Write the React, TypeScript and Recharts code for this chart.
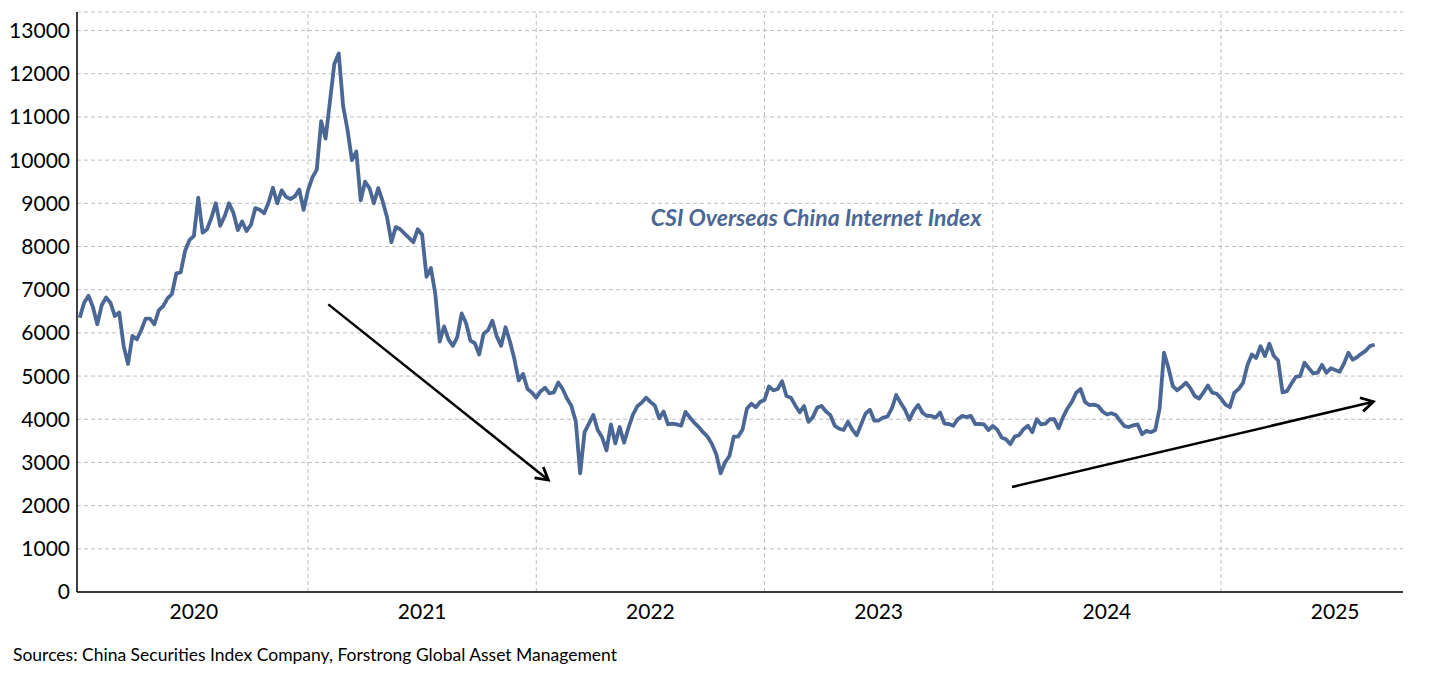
import React from "react";
import {
  LineChart,
  Line,
  XAxis,
  YAxis,
  CartesianGrid,
  ReferenceLine,
  ReferenceDot,
} from "recharts";

// Weekly closes, one array per calendar year
const v2020 = [6350, 6700, 6860, 6600, 6200, 6640, 6820, 6700, 6390, 6470, 5700, 5280, 5930, 5850, 6060, 6330, 6330, 6200, 6520, 6620, 6800, 6900, 7380, 7400, 7900, 8150, 8245, 9130, 8320, 8400, 8670, 9000, 8480, 8700, 9000, 8780, 8380, 8580, 8360, 8500, 8890, 8850, 8770, 9015, 9360, 9000, 9300, 9150, 9100, 9160, 9320, 8850];
const v2021 = [9300, 9600, 9780, 10900, 10500, 11360, 12230, 12470, 11250, 10704, 10000, 10200, 9070, 9500, 9353, 9000, 9353, 9050, 8680, 8100, 8450, 8400, 8300, 8200, 8100, 8400, 8273, 7300, 7501, 6900, 5800, 6150, 5850, 5700, 5900, 6450, 6230, 5820, 5760, 5500, 5980, 6060, 6280, 5920, 5700, 6130, 5800, 5400, 4900, 5050, 4700, 4620];
const v2022 = [4500, 4650, 4730, 4600, 4620, 4850, 4700, 4480, 4310, 3950, 2750, 3700, 3900, 4100, 3750, 3580, 3280, 3880, 3440, 3820, 3457, 3800, 4100, 4300, 4383, 4500, 4400, 4320, 4020, 4180, 3880, 3900, 3880, 3850, 4170, 4040, 3920, 3820, 3700, 3600, 3430, 3190, 2750, 3000, 3150, 3600, 3600, 3765, 4250, 4360, 4280, 4400];
const v2023 = [4450, 4760, 4670, 4700, 4880, 4540, 4500, 4320, 4160, 4308, 3940, 4050, 4270, 4308, 4180, 4095, 3850, 3780, 3750, 3940, 3760, 3630, 3880, 4130, 4220, 3970, 3970, 4040, 4060, 4250, 4560, 4380, 4220, 3990, 4200, 4330, 4150, 4077, 4077, 4038, 4154, 3900, 3890, 3850, 4000, 4077, 4050, 4077, 3890, 3890, 3880, 3750];
const v2024 = [3846, 3760, 3580, 3538, 3423, 3600, 3630, 3769, 3850, 3700, 4000, 3880, 3900, 4000, 4000, 3790, 4050, 4250, 4400, 4615, 4700, 4400, 4330, 4340, 4308, 4180, 4110, 4140, 4100, 3962, 3840, 3820, 3860, 3880, 3654, 3731, 3700, 3750, 4250, 5540, 5192, 4769, 4670, 4750, 4846, 4720, 4538, 4480, 4620, 4780, 4615, 4590];
const v2025 = [4480, 4340, 4280, 4615, 4700, 4840, 5250, 5500, 5420, 5692, 5462, 5750, 5470, 5360, 4620, 4650, 4820, 4980, 5000, 5308, 5180, 5060, 5077, 5260, 5077, 5180, 5140, 5100, 5290, 5538, 5380, 5440, 5520, 5590, 5700, 5725];

const years = [2020, 2021, 2022, 2023, 2024, 2025];
const yearValues = [v2020, v2021, v2022, v2023, v2024, v2025];
const WEEKS_PER_YEAR = 52;

const yTicks = [0, 1000, 2000, 3000, 4000, 5000, 6000, 7000, 8000, 9000, 10000, 11000, 12000, 13000];
const xLabelTicks = [2020.5, 2021.5, 2022.5, 2023.5, 2024.5, 2025.5];
const yearBoundaries = [2021, 2022, 2023, 2024, 2025];

const seriesName = "CSI Overseas China Internet Index";
const sourceText = "Sources: China Securities Index Company, Forstrong Global Asset Management";

// Annotation anchors (data coordinates)
const labelAnchor = { t: 2023.226, v: 8660 };
const arrowDown = [{ x: 2021.089, y: 6660 }, { x: 2022.053, y: 2593 }];
const arrowUp = [{ x: 2024.084, y: 2431 }, { x: 2025.667, y: 4405 }];

const data = years.flatMap((yr, k) =>
  yearValues[k].map((v, i) => ({ t: yr + i / WEEKS_PER_YEAR, v }))
);

const LINE_COLOR = "#4A6796";
const FONT = "Lato, 'Open Sans', sans-serif";

const ArrowShape = (props: any) => {
  const { x1, y1, x2, y2 } = props;
  const a = Math.atan2(y2 - y1, x2 - x1);
  const L = 14;
  const s = (30 * Math.PI) / 180;
  const p1x = x2 - L * Math.cos(a - s);
  const p1y = y2 - L * Math.sin(a - s);
  const p2x = x2 - L * Math.cos(a + s);
  const p2y = y2 - L * Math.sin(a + s);
  return (
    <g>
      <line x1={x1} y1={y1} x2={x2} y2={y2} stroke="#000" strokeWidth={2.5} />
      <polyline
        points={`${p1x},${p1y} ${x2},${y2} ${p2x},${p2y}`}
        fill="none"
        stroke="#000"
        strokeWidth={2.8}
        strokeLinejoin="miter"
      />
    </g>
  );
};

export default function App() {
  return (
    <div style={{ position: "relative", width: 1414, height: 665, fontFamily: FONT }}>
      <LineChart
        width={1414}
        height={640}
        data={data}
        margin={{ top: 4, right: 19, left: 9, bottom: 26 }}
      >
        <CartesianGrid
          vertical={false}
          stroke="#BFBFBF"
          strokeDasharray="4 3"
        />
        {yearBoundaries.map((yb) => (
          <ReferenceLine
            key={yb}
            x={yb}
            stroke="#BFBFBF"
            strokeDasharray="4 3"
          />
        ))}
        <XAxis
          dataKey="t"
          type="number"
          domain={[2019.988, 2025.797]}
          ticks={xLabelTicks}
          tickFormatter={(t: number) => String(Math.floor(t))}
          height={30}
          tickLine={false}
          tickSize={0}
          tickMargin={12}
          axisLine={{ stroke: "#000", strokeWidth: 1.5 }}
          tick={{ fill: "#000", fontSize: 21, fontFamily: FONT }}
          allowDataOverflow
        />
        <XAxis
          xAxisId="top"
          orientation="top"
          dataKey="t"
          type="number"
          domain={[2019.988, 2025.797]}
          height={0}
          tick={false}
          tickLine={false}
          axisLine={{ stroke: "#000", strokeWidth: 1 }}
        />
        <YAxis
          type="number"
          domain={[0, 13430]}
          ticks={yTicks}
          width={60}
          tickLine={false}
          tickSize={0}
          tickMargin={7}
          interval={0}
          axisLine={{ stroke: "#000", strokeWidth: 1.5 }}
          tick={{ fill: "#000", fontSize: 21, fontFamily: FONT }}
          allowDataOverflow
        />
        <YAxis
          yAxisId="right"
          orientation="right"
          domain={[0, 13430]}
          width={0}
          tick={false}
          tickLine={false}
          axisLine={{ stroke: "#7F7F7F", strokeWidth: 1.5 }}
        />
        <Line
          type="linear"
          dataKey="v"
          stroke={LINE_COLOR}
          strokeWidth={3.8}
          dot={false}
          isAnimationActive={false}
          strokeLinejoin="round"
        />
        <ReferenceLine segment={arrowDown} shape={ArrowShape} />
        <ReferenceLine segment={arrowUp} shape={ArrowShape} />
        <ReferenceDot
          x={labelAnchor.t}
          y={labelAnchor.v}
          r={0}
          fill="none"
          stroke="none"
          label={{
            value: seriesName,
            position: "center",
            fill: LINE_COLOR,
            fontSize: 23,
            fontStyle: "italic",
            fontWeight: 700,
            fontFamily: FONT,
          }}
        />
      </LineChart>
      <div
        style={{
          position: "absolute",
          left: 5,
          top: 636,
          fontSize: 17.5,
          color: "#000",
          fontFamily: FONT,
          whiteSpace: "nowrap",
        }}
      >
        {sourceText}
      </div>
    </div>
  );
}
